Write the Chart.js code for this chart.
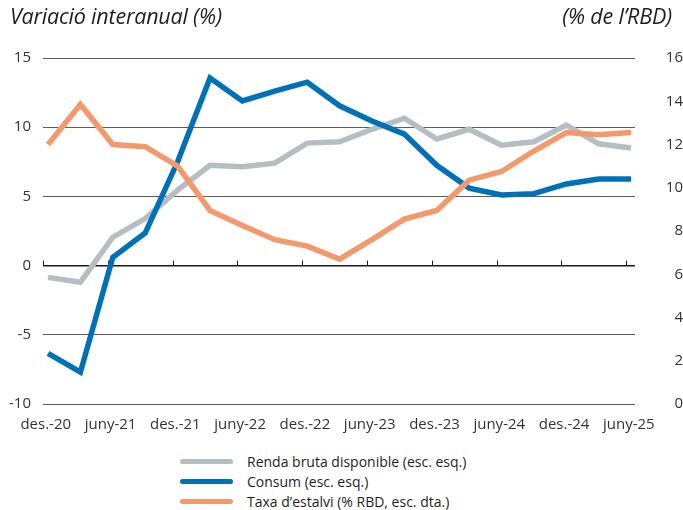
<!DOCTYPE html>
<html>
<head>
<meta charset="utf-8">
<script src="https://cdn.jsdelivr.net/npm/chart.js@4.4.0/dist/chart.umd.min.js"></script>
<style>
    body { margin: 0; background: #fff; font-family: 'Open Sans', sans-serif; }
    #wrap { position: relative; width: 683px; height: 510px; overflow: hidden; }
    #chart { position: absolute; left: 0; top: 0; }
    .axis-title { position: absolute; top: 1px; font-style: italic; font-size: 21.5px; color: #1e1e1e; white-space: nowrap; letter-spacing: -0.2px; }
    #legend { position: absolute; left: 180px; top: 451px; font-size: 14px; color: #1e1e1e; }
    #legend .row { display: flex; align-items: center; height: 20px; }
    #legend .swatch { width: 53px; height: 5px; border-radius: 3px; margin-right: 14px; }
</style>
</head>
<body>
<div id="wrap">
    <canvas id="chart" width="683" height="440"></canvas>
    <div class="axis-title" style="left:10px">Variació interanual (%)</div>
    <div class="axis-title" style="right:11px">(% de l’RBD)</div>
    <div id="legend"></div>
</div>
<script>
// Quarterly series, des.-20 to juny-25
const quarters = ['des.-20', 'mar.-21', 'juny-21', 'set.-21', 'des.-21', 'mar.-22', 'juny-22', 'set.-22', 'des.-22',
    'mar.-23', 'juny-23', 'set.-23', 'des.-23', 'mar.-24', 'juny-24', 'set.-24', 'des.-24', 'mar.-25', 'juny-25'];
const tickLabels = ['des.-20', 'juny-21', 'des.-21', 'juny-22', 'des.-22', 'juny-23', 'des.-23', 'juny-24', 'des.-24', 'juny-25'];

const renda = [-0.85, -1.2, 2.05, 3.4, 5.45, 7.25, 7.15, 7.4, 8.85, 8.95, 9.85, 10.65, 9.15, 9.85, 8.7, 8.95, 10.15, 8.8, 8.5];
const consum = [-6.35, -7.7, 0.6, 2.35, 7.5, 13.55, 11.9, 12.6, 13.25, 11.55, 10.45, 9.5, 7.25, 5.6, 5.1, 5.2, 5.9, 6.25, 6.25];
const estalvi = [12.0, 13.85, 12.0, 11.9, 11.0, 8.95, 8.25, 7.6, 7.3, 6.7, 7.6, 8.55, 8.95, 10.35, 10.75, 11.7, 12.55, 12.45, 12.55];

const leftTicks = [-10, -5, 0, 5, 10, 15];
const rightTicks = [0, 2, 4, 6, 8, 10, 12, 14, 16];

const X_MIN = -0.155;
const X_MAX = 18.12;

const toPoints = arr => arr.map((v, i) => ({ x: i, y: v }));

// Small upward tick marks sitting on the zero line
const zeroLineTicks = {
    id: 'zeroLineTicks',
    beforeDatasetsDraw(chart) {
        const x = chart.scales.x;
        const y = chart.scales.y;
        const y0 = y.getPixelForValue(0);
        const ctx = chart.ctx;
        ctx.save();
        ctx.strokeStyle = '#1a1a1a';
        ctx.lineWidth = 1;
        tickLabels.forEach((_, k) => {
            const px = Math.round(x.getPixelForValue(X_MIN + 2 * k)) + 0.5;
            ctx.beginPath();
            ctx.moveTo(px, y0);
            ctx.lineTo(px, y0 - 5);
            ctx.stroke();
        });
        ctx.restore();
    }
};

const tickFont = { family: "'Open Sans', sans-serif", size: 15 };

const chart = new Chart(document.getElementById('chart').getContext('2d'), {
    type: 'line',
    data: {
        datasets: [
            {
                label: 'Renda bruta disponible (esc. esq.)',
                data: toPoints(renda),
                borderColor: '#b5bec2',
                yAxisID: 'y',
                order: 3
            },
            {
                label: 'Consum (esc. esq.)',
                data: toPoints(consum),
                borderColor: '#0071b8',
                yAxisID: 'y',
                order: 2
            },
            {
                label: 'Taxa d’estalvi (% RBD, esc. dta.)',
                data: toPoints(estalvi),
                borderColor: '#f3996b',
                yAxisID: 'y2',
                order: 1
            }
        ]
    },
    options: {
        responsive: false,
        animation: false,
        layout: { padding: { top: 58, left: 0, right: 0, bottom: 0 } },
        elements: {
            line: { borderWidth: 5.5, tension: 0, fill: false },
            point: { radius: 0, hoverRadius: 0 }
        },
        plugins: {
            legend: { display: false },
            tooltip: { enabled: false }
        },
        scales: {
            x: {
                type: 'linear',
                min: X_MIN,
                max: X_MAX,
                grid: { display: false, drawTicks: false },
                border: { display: false },
                afterBuildTicks: scale => {
                    scale.ticks = tickLabels.map((_, k) => ({ value: 2 * k - 0.07 }));
                },
                afterFit: scale => { scale.height = 36; },
                ticks: {
                    autoSkip: false,
                    maxRotation: 0,
                    padding: 12,
                    color: '#333',
                    font: tickFont,
                    callback: (value, index) => tickLabels[index]
                }
            },
            y: {
                position: 'left',
                min: -10,
                max: 15,
                afterBuildTicks: scale => {
                    scale.ticks = leftTicks.map(v => ({ value: v }));
                },
                afterFit: scale => { scale.width = 43; },
                grid: {
                    drawTicks: false,
                    color: ctx => ctx.tick.value === 0 ? '#1a1a1a' : '#5c5c5c',
                    lineWidth: ctx => ctx.tick.value === 0 ? 1.5 : 1
                },
                border: { display: false },
                ticks: { padding: 12, color: '#333', font: tickFont }
            },
            y2: {
                position: 'right',
                min: 0,
                max: 16,
                afterBuildTicks: scale => {
                    scale.ticks = rightTicks.map(v => ({ value: v }));
                },
                afterFit: scale => { scale.width = 48; },
                grid: { display: false, drawTicks: false },
                border: { display: false },
                ticks: { padding: 13, crossAlign: 'far', color: '#333', font: tickFont }
            }
        }
    },
    plugins: [zeroLineTicks]
});

// Legend built from the chart's own datasets, one entry per row
const legendEl = document.getElementById('legend');
chart.data.datasets.forEach(ds => {
    const row = document.createElement('div');
    row.className = 'row';
    row.innerHTML = `<span class="swatch" style="background:${ds.borderColor}"></span><span>${ds.label}</span>`;
    legendEl.appendChild(row);
});
</script>
</body>
</html>
